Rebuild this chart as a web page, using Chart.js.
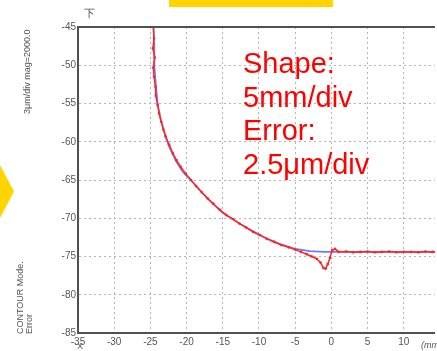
<!DOCTYPE html>
<html>
<head>
<meta charset="utf-8">
<script src="https://cdn.jsdelivr.net/npm/chart.js@4/dist/chart.umd.min.js"></script>
<style>
  body { margin: 0; background: #fff; }
  #wrap { position: relative; width: 437px; height: 351px; overflow: hidden; font-family: "Liberation Sans", Arial, sans-serif; }
  #chart { position: absolute; left: 0; top: 0; }
  .lbl { position: absolute; color: #555; font-size: 9px; white-space: nowrap; }
  .rot { transform-origin: 0 0; transform: rotate(-90deg); line-height: 9px; }
  .note { position: absolute; left: 243px; top: 47px; color: #ff0000; font-size: 29px; line-height: 33.7px; white-space: nowrap; }
  .bar { position: absolute; left: 169px; top: 0; width: 164px; height: 7px; background: #ffd400; }
  .chev { position: absolute; left: 0; top: 165px; width: 14px; height: 53px; background: #ffd400; clip-path: polygon(0 0, 100% 50%, 0 100%); }
</style>
</head>
<body>
<div id="wrap">
  <canvas id="chart" width="437" height="351"></canvas>
  <div class="bar"></div>
  <div class="chev"></div>
  <div class="lbl" style="left:84px;top:6px;font-size:11px;">下</div>
  <div class="lbl rot" style="left:23px;top:114px;">3μm/div mag=2000.0</div>
  <div class="lbl rot" style="left:16px;top:334px;">CONTOUR Mode.<br>Error</div>
  <div class="lbl" style="left:77px;top:341px;">X</div>
  <div class="lbl" style="left:421px;top:340px;font-style:italic;">(mm</div>
  <div class="note">Shape:<br>5mm/div<br>Error:<br>2.5μm/div</div>
</div>
<script>
// tick values
const xTicks = [-35, -30, -25, -20, -15, -10, -5, 0, 5, 10];
const yTicks = [-45, -50, -55, -60, -65, -70, -75, -80, -85];

// design profile (blue)
const designX = [-24.55, -24.5, -24.45, -24.2, -24.0, -23.6, -23.0, -22.5, -21.5, -20.5, -19.4, -18.0, -16.5, -15.0, -13.0, -11.0, -9.0, -7.0, -5.0, -3.0, -1.0, 0, 5, 10, 15];
const designY = [-45, -47, -50, -53, -55, -57, -59, -60.5, -62.5, -64, -65, -66.5, -68, -69.3, -70.5, -71.6, -72.6, -73.4, -74.0, -74.3, -74.4, -74.4, -74.4, -74.4, -74.4];

// measured profile (red)
const measX = [-24.6, -24.5, -24.65, -24.4, -24.6, -24.5, -24.3, -24.25, -24.0, -23.8, -23.5, -23.2, -22.9, -22.4, -21.9, -21.4, -20.8, -20.1, -19.4, -18.7, -17.9, -17.1, -16.3, -15.4, -14.5, -13.6, -12.7, -11.8, -10.8, -9.9, -8.9, -7.9, -6.9, -5.9, -5.0, -4.2, -3.4, -2.7, -2.0, -1.5, -1.1, -0.8, -0.5, -0.2, 0.1, 0.5, 1, 2, 3, 4, 5, 6, 7, 8, 9, 10, 11, 12, 13, 14, 15];
const measY = [-45, -46.5, -47.8, -49, -50.3, -51.5, -52.8, -54, -55.2, -56.3, -57.4, -58.4, -59.3, -60.4, -61.5, -62.4, -63.3, -64.2, -65.0, -65.8, -66.6, -67.4, -68.1, -68.9, -69.6, -70.1, -70.7, -71.2, -71.8, -72.2, -72.7, -73.1, -73.5, -73.8, -74.1, -74.4, -74.7, -75.0, -75.3, -75.8, -76.5, -76.6, -76.0, -75.2, -74.2, -74.0, -74.4, -74.35, -74.45, -74.4, -74.35, -74.45, -74.4, -74.35, -74.45, -74.4, -74.4, -74.45, -74.35, -74.4, -74.4];

const toPts = (xs, ys) => xs.map((x, i) => ({ x: x, y: ys[i] }));

// top frame line, the other sides come from the axis borders
const topFrame = {
  id: 'topFrame',
  afterDraw(chart) {
    const a = chart.chartArea, ctx = chart.ctx;
    ctx.save();
    ctx.strokeStyle = '#505050';
    ctx.lineWidth = 2;
    ctx.beginPath();
    ctx.moveTo(a.left, a.top);
    ctx.lineTo(a.right, a.top);
    ctx.stroke();
    ctx.restore();
  }
};

const gridOpts = { color: '#b4b4b4', lineWidth: 1, drawTicks: false };
const tickFont = { family: 'Liberation Sans', size: 10 };

new Chart(document.getElementById('chart'), {
  type: 'scatter',
  data: {
    datasets: [
      { label: 'measured', data: toPts(measX, measY), showLine: true, borderColor: '#ff2424', backgroundColor: '#ff2424', borderWidth: 1.5, pointRadius: 0.6, pointHoverRadius: 0, order: 0 },
      { label: 'design', data: toPts(designX, designY), showLine: true, borderColor: '#7078ff', borderWidth: 1.6, pointRadius: 0, order: 1 }
    ]
  },
  options: {
    responsive: false,
    animation: false,
    devicePixelRatio: 1,
    layout: { padding: { left: 0, top: 27, right: 0, bottom: 0 } },
    plugins: { legend: { display: false }, tooltip: { enabled: false } },
    scales: {
      x: {
        type: 'linear', min: -35, max: 14.3,
        afterBuildTicks: s => { s.ticks = xTicks.map(v => ({ value: v })); },
        afterFit: s => { s.height = 18; },
        grid: gridOpts,
        border: { display: true, color: '#505050', width: 2, dash: [2, 3] },
        ticks: { color: '#555', font: tickFont, padding: 3, maxRotation: 0, autoSkip: false }
      },
      y: {
        type: 'linear', min: -85, max: -45,
        afterBuildTicks: s => { s.ticks = yTicks.map(v => ({ value: v })); },
        afterFit: s => { s.width = 78; },
        grid: gridOpts,
        border: { display: true, color: '#505050', width: 2, dash: [2, 3] },
        ticks: { color: '#555', font: tickFont, padding: 2, autoSkip: false }
      }
    }
  },
  plugins: [topFrame]
});
</script>
</body>
</html>
